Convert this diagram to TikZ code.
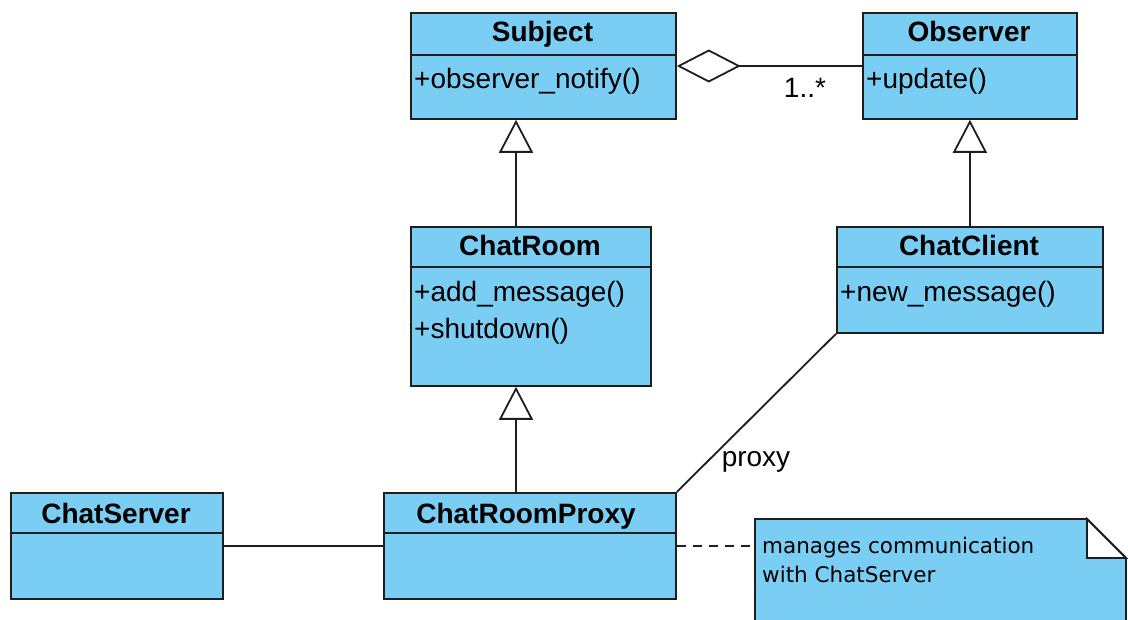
\documentclass[tikz,border=0pt]{standalone}
\usepackage{fontspec}
\setmainfont{Liberation Sans}
\newfontfamily\notefont{DejaVu Sans}
\usetikzlibrary{arrows.meta}
\definecolor{umlblue}{RGB}{122,206,244}
\definecolor{linec}{RGB}{30,30,30}
\begin{document}
\begin{tikzpicture}[x=1pt,y=-1pt,
  cls/.style={draw=linec, fill=umlblue, line width=1.8pt, anchor=north west, inner sep=0pt},
  ttl/.style={font=\bfseries\fontsize{28}{32}\selectfont, inner sep=0pt, anchor=base},
  mem/.style={font=\fontsize{28}{32}\selectfont, anchor=base west, inner sep=0pt},
  conn/.style={draw=linec, line width=1.8pt},
  gen/.style={conn, -{Triangle[open,length=33pt,width=34pt]}},
  lbl/.style={font=\fontsize{28}{32}\selectfont, inner sep=0pt, anchor=base},
  notetxt/.style={font=\notefont\fontsize{21.5}{30}\selectfont, anchor=base west, inner sep=0pt}
]
\useasboundingbox (0,0) rectangle (1128,620);
\clip (0,0) rectangle (1128,620);
% helper coordinates
\coordinate (xg) at (516,0);
\coordinate (yagg) at (0,66);
\coordinate (yline) at (0,546);

% classes
\node[cls, minimum width=265pt, minimum height=106pt] (subject) at (410,12) {};
\draw[conn] (410,55) -- (675,55);
\node[ttl] (subjectT) at (542.5,42) {Subject};
\node[mem] (subjectM) at (414,89) {+observer\_notify()};

\node[cls, minimum width=214pt, minimum height=106pt] (observer) at (862,12) {};
\draw[conn] (862,55) -- (1076,55);
\node[ttl] (observerT) at (969,42) {Observer};
\node[mem] (observerM) at (866,89) {+update()};

\node[cls, minimum width=240pt, minimum height=159pt] (chatroom) at (410,226) {};
\draw[conn] (410,267) -- (650,267);
\node[ttl] (chatroomT) at (530,256) {ChatRoom};
\node[mem] (chatroomM1) at (414,302) {+add\_message()};
\node[mem] (chatroomM2) at (414,339) {+shutdown()};

\node[cls, minimum width=266pt, minimum height=106pt] (chatclient) at (836,226) {};
\draw[conn] (836,267) -- (1102,267);
\node[ttl] (chatclientT) at (969,256) {ChatClient};
\node[mem] (chatclientM) at (840,302) {+new\_message()};

\node[cls, minimum width=212pt, minimum height=106pt] (chatserver) at (10,492) {};
\draw[conn] (10,533) -- (222,533);
\node[ttl] (chatserverT) at (116,523) {ChatServer};

\node[cls, minimum width=292pt, minimum height=106pt] (proxy) at (383,492) {};
\draw[conn] (383,533) -- (675,533);
\node[ttl] (proxyT) at (526,523) {ChatRoomProxy};

% note
\coordinate (noteW) at (755,546);
\filldraw[draw=linec, fill=umlblue, line width=1.8pt]
  (755,519) -- (1087,519) -- (1126,558) -- (1126,650) -- (755,650) -- cycle;
\filldraw[draw=linec, fill=white, line width=1.8pt, line join=miter]
  (1087,519) -- (1087,558) -- (1126,558) -- cycle;
\node[notetxt] (note1) at (762,553) {manages communication};
\node[notetxt] (note2) at (762,582) {with ChatServer};

% connectors
\draw[conn, {Diamond[open,fill=white,length=64pt,width=33pt]}-] (subject.east |- yagg) -- (observer.west |- yagg);
\node[lbl] (mult) at (805,98) {1..*};
\draw[gen] (chatroom.north -| xg) -- (subject.south -| xg);
\draw[gen] (chatclient.north) -- (observer.south);
\draw[gen] (proxy.north -| xg) -- (chatroom.south -| xg);
\draw[conn] (chatclient.south west) -- (proxy.north east);
\node[lbl] (proxyL) at (756,467) {proxy};
\draw[conn] (chatserver.east |- yline) -- (proxy.west |- yline);
\draw[conn, dash pattern=on 9pt off 7pt] (proxy.east |- yline) -- (noteW);
\end{tikzpicture}
\end{document}
